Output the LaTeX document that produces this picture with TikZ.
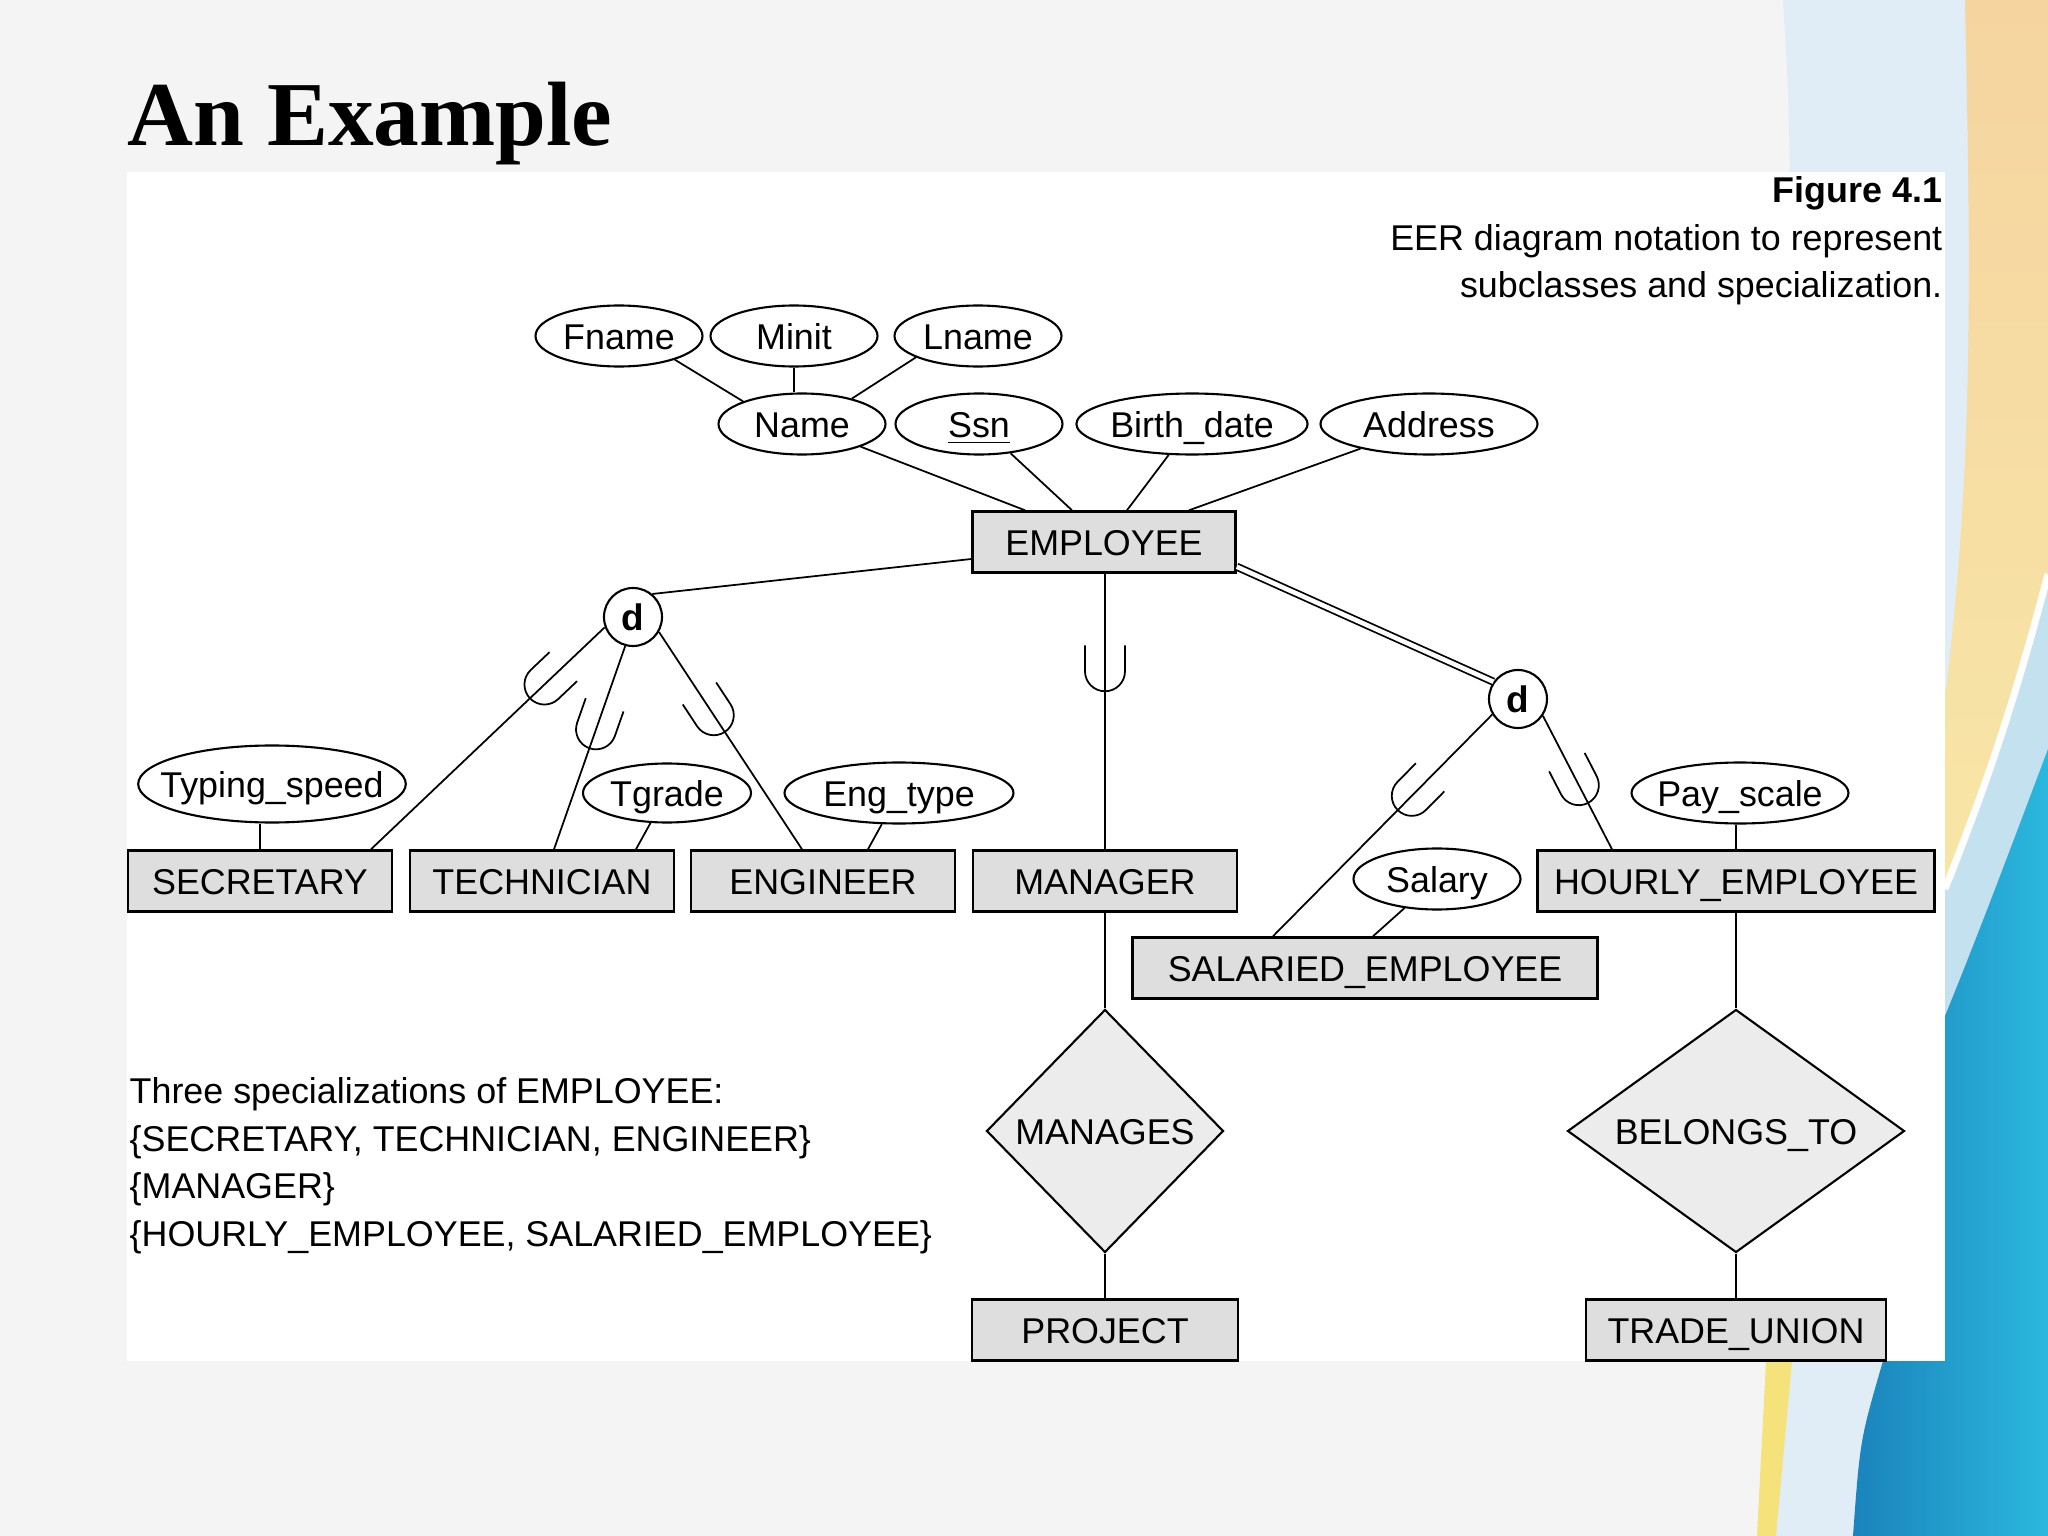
\documentclass[tikz,border=0pt]{standalone}
\usepackage{fontspec}
\setmainfont{Liberation Sans}
\newfontfamily\titlefont{Liberation Serif}
\usetikzlibrary{shapes.geometric}
\definecolor{slidebg}{HTML}{F4F4F4}
\definecolor{paleblue}{HTML}{E0ECF6}
\definecolor{bandblue}{HTML}{C4E1F0}
\definecolor{peachtop}{HTML}{F5D4A0}
\definecolor{peachbot}{HTML}{F8E6A6}
\definecolor{stripe}{HTML}{F6E27A}
\definecolor{deepblue}{HTML}{1A83BB}
\definecolor{cyanblue}{HTML}{2BB8DE}
\definecolor{entfill}{HTML}{DEDEDE}
\definecolor{relfill}{HTML}{ECECEC}
\begin{document}
\begin{tikzpicture}[
    font=\fontsize{10.2}{13.5}\selectfont,
    ent/.style={draw, line width=0.7pt, fill=entfill, minimum width=2.64cm, minimum height=0.61cm, inner sep=0pt, text height=7.4pt, text depth=0pt},
    attr/.style={ellipse, draw, line width=0.6pt, fill=white, minimum width=1.67cm, minimum height=0.61cm, inner sep=0pt, text height=7.4pt, text depth=0pt},
    spec/.style={circle, draw, line width=0.6pt, fill=white, minimum size=0.58cm, inner sep=0pt, font=\fontsize{10.5}{12}\selectfont\bfseries},
    rel/.style={diamond, draw, line width=0.6pt, fill=relfill, inner sep=1pt, text height=7.4pt, text depth=0pt},
    link/.style={line width=0.5pt},
    cupsym/.pic={\draw[line width=0.5pt] (-0.26,0.2) -- (0,0.2) arc[start angle=90, end angle=-90, radius=0.2] -- (-0.26,-0.2);}
]
\useasboundingbox (0,0) rectangle (20.48,-15.36);
\fill[slidebg] (0,0) rectangle (20.48,-15.36);
\fill[paleblue] (17.83,0) -- (20.48,0) -- (20.48,-15.36) -- (17.70,-15.36) -- (17.85,-13.61) -- (17.90,-1.72) .. controls (17.88,-0.8) .. (17.83,0) -- cycle;
\fill[bandblue] (20.48,-5.74) .. controls (20.1,-7.2) and (19.8,-8.0) .. (19.45,-8.89) -- (19.2,-10.6) -- (20.48,-10.6) -- cycle;
\shade[top color=peachtop, bottom color=peachbot] (19.65,0) -- (20.48,0) -- (20.48,-5.74) .. controls (20.1,-7.2) and (19.8,-8.0) .. (19.45,-8.89) -- (19.3,-8.89) -- (19.3,-6.9) -- (19.46,-6.9) .. controls (19.75,-4.5) and (19.7,-2.5) .. (19.65,0) -- cycle;
\draw[white, line width=2pt] (20.48,-5.74) .. controls (20.1,-7.2) and (19.8,-8.0) .. (19.45,-8.89);
\shade[left color=deepblue, right color=cyanblue] (20.48,-7.49) .. controls (20.1,-8.5) and (19.8,-9.3) .. (19.45,-10.16) -- (18.83,-13.61) .. controls (18.6,-14.4) .. (18.53,-15.36) -- (20.48,-15.36) -- cycle;
\fill[stripe] (17.66,-13.61) -- (17.92,-13.61) -- (17.76,-15.36) -- (17.57,-15.36) -- cycle;
\fill[white] (1.27,-1.72) rectangle (19.45,-13.61);

\node[anchor=base west, inner sep=0pt, font=\titlefont\bfseries\fontsize{26}{30}\selectfont] (title) at (1.27,-1.46) {An Example};
\node[anchor=north east, align=right, inner sep=0pt] (caption) at (19.43,-1.76) {\textbf{Figure 4.1}\\EER diagram notation to represent\\subclasses and specialization.};

\node[attr] (fname) at (6.19,-3.36) {Fname};
\node[attr] (minit) at (7.94,-3.36) {Minit};
\node[attr] (lname) at (9.78,-3.36) {Lname};
\node[attr] (name) at (8.02,-4.24) {Name};
\node[attr] (ssn) at (9.79,-4.24) {\underline{Ssn}};
\node[attr, minimum width=2.30cm] (bdate) at (11.92,-4.24) {Birth\_date};
\node[attr, minimum width=2.17cm] (addr) at (14.29,-4.24) {Address};
\node[ent, minimum width=2.63cm] (emp) at (11.04,-5.42) {EMPLOYEE};
\node[spec] (dl) at (6.33,-6.17) {d};
\node[spec] (dr) at (15.18,-6.99) {d};

\node[attr, minimum height=0.77cm, inner xsep=-0.17cm] (typ) at (2.72,-7.84) {Typing\_speed};
\node[attr, minimum width=1.68cm, minimum height=0.59cm] (tgr) at (6.67,-7.93) {Tgrade};
\node[attr, minimum width=2.29cm] (etype) at (8.99,-7.93) {Eng\_type};
\node[attr, inner xsep=-0.06cm] (pay) at (17.40,-7.93) {Pay\_scale};
\node[attr] (slry) at (14.37,-8.79) {Salary};

\node[ent] (sec) at (2.60,-8.81) {SECRETARY};
\node[ent] (tech) at (5.42,-8.81) {TECHNICIAN};
\node[ent] (eng) at (8.23,-8.81) {ENGINEER};
\node[ent] (mgr) at (11.05,-8.81) {MANAGER};
\node[ent, minimum width=3.97cm] (hrly) at (17.36,-8.81) {HOURLY\_EMPLOYEE};
\node[ent, minimum width=4.65cm] (sal) at (13.65,-9.68) {SALARIED\_EMPLOYEE};

\node[rel, aspect=0.975, minimum width=2.37cm, minimum height=2.43cm] (manages) at (11.05,-11.31) {MANAGES};
\node[ent, minimum width=2.66cm] (proj) at (11.05,-13.30) {PROJECT};
\node[rel, aspect=1.39, minimum width=3.37cm, minimum height=2.43cm] (belongs) at (17.36,-11.31) {BELONGS\_TO};
\node[ent, minimum width=3.0cm] (union) at (17.36,-13.30) {TRADE\_UNION};

\node[anchor=north west, align=left, inner sep=0pt] (note) at (1.29,-10.77) {Three specializations of EMPLOYEE:\\\{SECRETARY, TECHNICIAN, ENGINEER\}\\\{MANAGER\}\\\{HOURLY\_EMPLOYEE, SALARIED\_EMPLOYEE\}};

\draw[link] (fname.-23) -- (name.159);
\draw[link] (minit.south) -- (minit.south |- name.north);
\draw[link] (lname.199) -- (name.27);
\draw[link] (name) -- ([xshift=-0.79cm]emp.north);
\draw[link] (ssn) -- ([xshift=-0.32cm]emp.north);
\draw[link] (bdate) -- ([xshift=0.23cm]emp.north);
\draw[link] (addr) -- ([xshift=0.85cm]emp.north);
\draw[link] ([yshift=-0.17cm]emp.west) -- (dl.50);
\draw[link, double, double distance=1.3pt] ([yshift=0.07cm]emp.south east) -- (dr.145);
\draw[link] (emp.south -| mgr.north) -- pic[pos=0.354, sloped, allow upside down]{cupsym} (mgr.north);
\draw[link] (dl.200) -- pic[pos=0.258, sloped, allow upside down]{cupsym} ([xshift=1.11cm]sec.north);
\draw[link] (dl.-105) -- pic[pos=0.41, sloped, allow upside down]{cupsym} ([xshift=0.12cm]tech.north);
\draw[link] (dl.-30) -- pic[pos=0.383, sloped, allow upside down]{cupsym} ([xshift=-0.21cm]eng.north);
\draw[link] (dr.211) -- pic[pos=0.367, sloped, allow upside down]{cupsym} ([xshift=-0.92cm]sal.north);
\draw[link] (dr.-34) -- pic[pos=0.52, sloped, allow upside down]{cupsym} ([xshift=-1.24cm]hrly.north);
\draw[link] (typ.south -| sec.north) -- (sec.north);
\draw[link] (tgr) -- ([xshift=0.94cm]tech.north);
\draw[link] (etype) -- ([xshift=0.45cm]eng.north);
\draw[link] (pay.south -| hrly.north) -- (hrly.north);
\draw[link] (slry) -- ([xshift=0.08cm]sal.north);
\draw[link] (mgr) -- (manages);
\draw[link] (manages) -- (proj);
\draw[link] (hrly) -- (belongs);
\draw[link] (belongs) -- (union);
\end{tikzpicture}
\end{document}
